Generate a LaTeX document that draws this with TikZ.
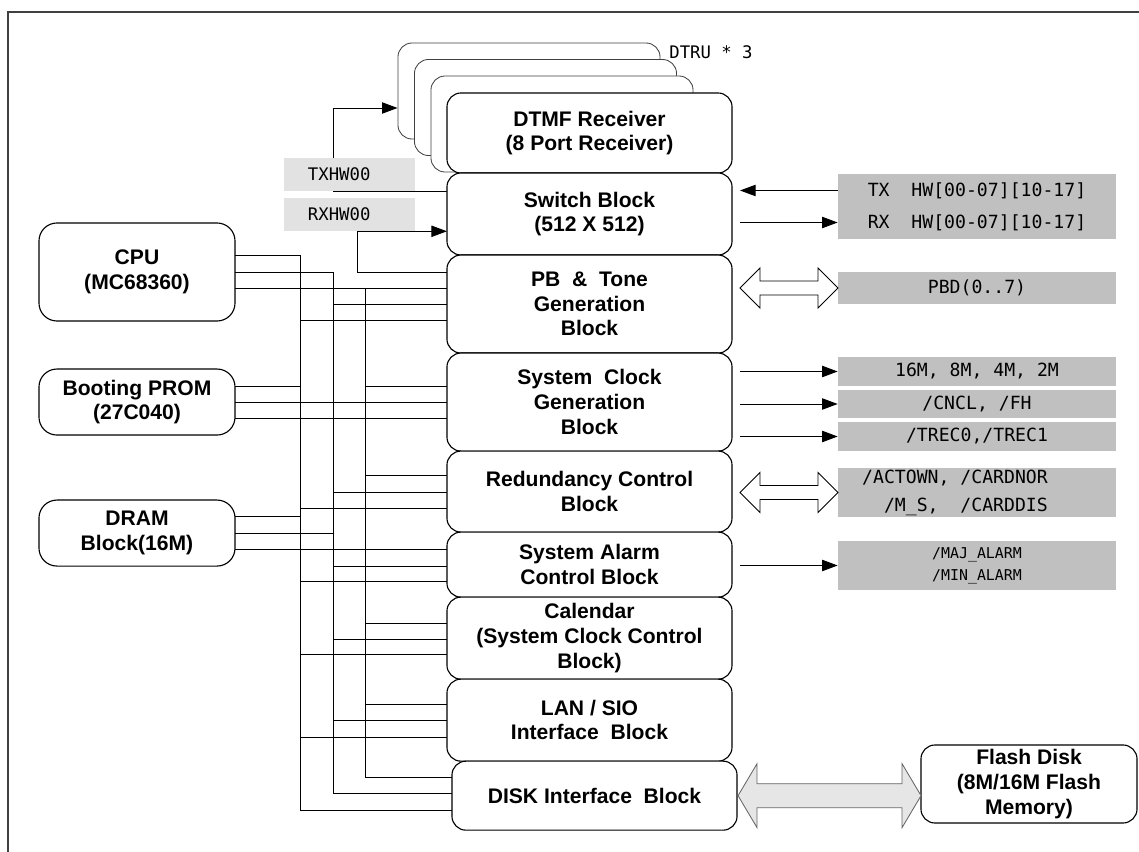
\documentclass[tikz,border=0pt]{standalone}
\usepackage{fontspec}
\setmainfont{Liberation Sans}
\newfontfamily\plotfont{DejaVu Sans Mono}
\usetikzlibrary{arrows.meta, positioning, backgrounds}
\usepackage{xcolor}
\definecolor{sigfill}{RGB}{192,192,192}
\definecolor{hwfill}{RGB}{226,226,226}
\definecolor{diskfill}{RGB}{230,230,230}

\begin{document}
\begin{tikzpicture}[
    x=0.025cm, y=-0.025cm,
    node distance=0pt,
    blockbox/.style={rectangle, draw, rounded corners=0.35cm, fill=white, line width=0.8pt, minimum width=7.125cm, align=center, inner sep=2pt, outer sep=0pt, font=\fontsize{15}{17.5}\selectfont\bfseries},
    cpubox/.style={blockbox, rounded corners=0.45cm, minimum width=4.9cm},
    dtrubox/.style={rectangle, draw=black!75, rounded corners=0.35cm, fill=white, line width=0.6pt, minimum width=6.55cm, minimum height=2.4cm},
    sigbox/.style={rectangle, fill=sigfill, minimum width=6.95cm, inner sep=0pt, align=center, font=\plotfont\fontsize{12.9}{22.8}\selectfont},
    hwbox/.style={rectangle, fill=hwfill, minimum height=0.825cm, text width=2.075cm, inner xsep=0.6cm, inner ysep=0pt, align=left, font=\plotfont\fontsize{12.3}{14}\selectfont},
    sigtext/.style={font=\plotfont\fontsize{12.9}{20}\selectfont, align=right},
    arr/.style={-{Triangle[length=11pt, width=8pt]}, line width=0.7pt},
    busline/.style={line width=0.7pt},
    hollowarr/.style={draw, line width=0.6pt, fill=white, line join=miter}
]
    \useasboundingbox (0,0) rectangle (1139,852);
    \draw[line width=1.4pt, black!75] (8,852) -- (8,12) -- (1139,12);

    % DTRU stack
    \node[dtrubox] (dtruA) at (529,91) {};
    \node[dtrubox] (dtruB) at (545.5,107.5) {};
    \node[dtrubox] (dtruC) at (562,124) {};
    \node[sigtext, font=\plotfont\fontsize{12.3}{14}\selectfont] (dtrulbl) at (711,52) {DTRU * 3};

    % Main blocks
    \node[blockbox, minimum height=2cm] (dtmf) at (589.5,133) {DTMF Receiver\\(8 Port Receiver)};
    \node[blockbox, minimum height=2.05cm, below=of dtmf] (switch) {Switch Block\\(512 X 512)};
    \node[blockbox, minimum height=2.45cm, below=of switch] (pbtone) {PB\ \ \&\ \ Tone\\Generation\\Block};
    \node[blockbox, minimum height=2.45cm, below=of pbtone] (sysclk) {System\ \ Clock\\Generation\\Block};
    \node[blockbox, minimum height=2.025cm, below=of sysclk] (redund) {Redundancy Control\\Block};
    \node[blockbox, minimum height=1.625cm, below=of redund] (alarm) {System Alarm\\Control Block};
    \node[blockbox, minimum height=2.05cm, below=of alarm] (calendar) {Calendar\\(System Clock Control\\Block)};
    \node[blockbox, minimum height=2.05cm, below=of calendar] (lansio) {LAN / SIO\\Interface\ \ Block};
    \node[blockbox, minimum height=1.725cm, below=of lansio, xshift=0.125cm] (disk) {DISK Interface\ \ Block};

    % Left blocks
    \node[cpubox, minimum height=2.45cm] (cpu) at (137,272) {CPU\\(MC68360)};
    \node[cpubox, minimum height=1.65cm, below=1.2cm of cpu] (prom) {Booting PROM\\(27C040)};
    \node[cpubox, minimum height=1.65cm, below=1.625cm of prom] (dram) {DRAM\\Block(16M)};

    \node[blockbox, minimum width=5.4cm, minimum height=1.95cm] (flash) at (1029,784) {Flash Disk\\(8M/16M Flash\\Memory)};

    % Highway labels
    \node[hwbox] (txhw) at (349.5,174.5) {TXHW00};
    \node[hwbox] (rxhw) at (349.5,214.5) {RXHW00};

    % Signal boxes
    \node[sigbox, minimum height=1.625cm] (txrx) at (977,206.5) {TX\ \ HW[00-07][10-17]\\RX\ \ HW[00-07][10-17]};
    \node[sigbox, minimum height=0.8cm] (pbd) at (977,288) {PBD(0..7)};
    \node[sigbox, minimum height=0.725cm] (clk16) at (977,371.5) {16M, 8M, 4M, 2M};
    \node[sigbox, minimum height=0.7cm] (cncl) at (977,404) {/CNCL, /FH};
    \node[sigbox, minimum height=0.725cm] (trec) at (977,436.5) {/TREC0,/TREC1};
    \node[sigbox, minimum height=1.225cm, label={[sigtext, xshift=-0.55cm]center:{/ACTOWN, /CARDNOR\\/M\_S,\ \ /CARDDIS}}] (actown) at (977,492.5) {};
    \node[sigbox, minimum height=1.225cm, font=\plotfont\fontsize{10.6}{15.6}\selectfont] (alarmsig) at (977,565.5) {/MAJ\_ALARM\\/MIN\_ALARM};

    % Highway arrows
    \coordinate (txup) at (333,108);
    \coordinate (rxdn) at (357,272);
    \begin{scope}[on background layer]
        \draw[arr] (switch.west |- txhw.south) -| (txup) -- (dtruA.west |- txup);
        \draw[arr] (pbtone.west |- rxdn) -- (rxdn) |- (switch.west |- rxhw.south);
    \end{scope}

    % Right arrows
    \coordinate (txlvl) at ([yshift=0.4cm]txrx.west);
    \coordinate (rxlvl) at ([yshift=-0.4cm]txrx.west);
    \draw[arr] (txlvl) -- ([xshift=0.2cm]switch.east |- txlvl);
    \draw[arr] ([xshift=0.2cm]switch.east |- rxlvl) -- (rxlvl);
    \draw[arr] ([xshift=0.2cm]sysclk.east |- clk16.west) -- (clk16.west);
    \draw[arr] ([xshift=0.2cm]sysclk.east |- cncl.west) -- (cncl.west);
    \draw[arr] ([xshift=0.2cm]sysclk.east |- trec.west) -- (trec.west);
    \draw[arr] ([xshift=0.2cm]alarm.east |- alarmsig.west) -- (alarmsig.west);

    % Bus arrows
    \draw[hollowarr] ([xshift=0.2cm]pbtone.east |- pbd.west) -- ++(20,-20) -- ++(0,13) -- ++(58,0) -- ++(0,-13) -- ++(20,20) -- ++(-20,20) -- ++(0,-13) -- ++(-58,0) -- ++(0,13) -- cycle;
    \draw[hollowarr] ([xshift=0.2cm]redund.east |- actown.west) -- ++(20,-20) -- ++(0,13) -- ++(58,0) -- ++(0,-13) -- ++(20,20) -- ++(-20,20) -- ++(0,-13) -- ++(-58,0) -- ++(0,13) -- cycle;
    \draw[hollowarr, fill=diskfill, draw=black!60] ([xshift=0.025cm]disk.east) -- ++(19,-32) -- ++(0,20) -- ++(145,0) -- ++(0,-20) -- ++(19,32) -- ++(-19,32) -- ++(0,-20) -- ++(-145,0) -- ++(0,20) -- cycle;

    % CPU bus
    \coordinate (busA) at (300,255);
    \coordinate (busB) at (333,272);
    \coordinate (busC) at (365,288);
    \draw[busline] (cpu.east |- busA) -- (busA) |- (disk.west |- 0,810);
    \draw[busline] (cpu.east) -- (busB) |- (disk.west |- 0,793);
    \draw[busline] (cpu.east |- busC) -- (pbtone.west |- busC) (busC) |- (disk.west |- 0,777);
    \draw[busline] (prom.east |- 0,386) -- (busA |- 0,386) (prom.east) -- (sysclk.west |- prom.east) (prom.east |- 0,418) -- (sysclk.west |- 0,418);
    \draw[busline] (dram.east |- 0,516) -- (busA |- 0,516) (dram.east) -- (busB |- dram.east) (dram.east |- 0,549) -- (alarm.west |- 0,549);

    % Branches to blocks
    \draw[busline] (busB |- 0,304) -- (pbtone.west |- 0,304) (busA |- 0,320) -- (pbtone.west |- 0,320);
    \draw[busline] (busC |- 0,386) -- (sysclk.west |- 0,386);
    \draw[busline] (busC |- 0,475) -- (redund.west |- 0,475) (busB |- 0,492) -- (redund.west |- 0,492) (busA |- 0,508) -- (redund.west |- 0,508);
    \draw[busline] (busB |- 0,566) -- (alarm.west |- 0,566) (busA |- 0,581) -- (alarm.west |- 0,581);
    \draw[busline] (busC |- 0,623) -- (calendar.west |- 0,623) (busB |- 0,639) -- (calendar.west |- 0,639) (busA |- 0,654) -- (calendar.west |- 0,654);
    \draw[busline] (busC |- 0,704) -- (lansio.west |- 0,704) (busB |- 0,720) -- (lansio.west |- 0,720) (busA |- 0,737) -- (lansio.west |- 0,737);
\end{tikzpicture}
\end{document}
